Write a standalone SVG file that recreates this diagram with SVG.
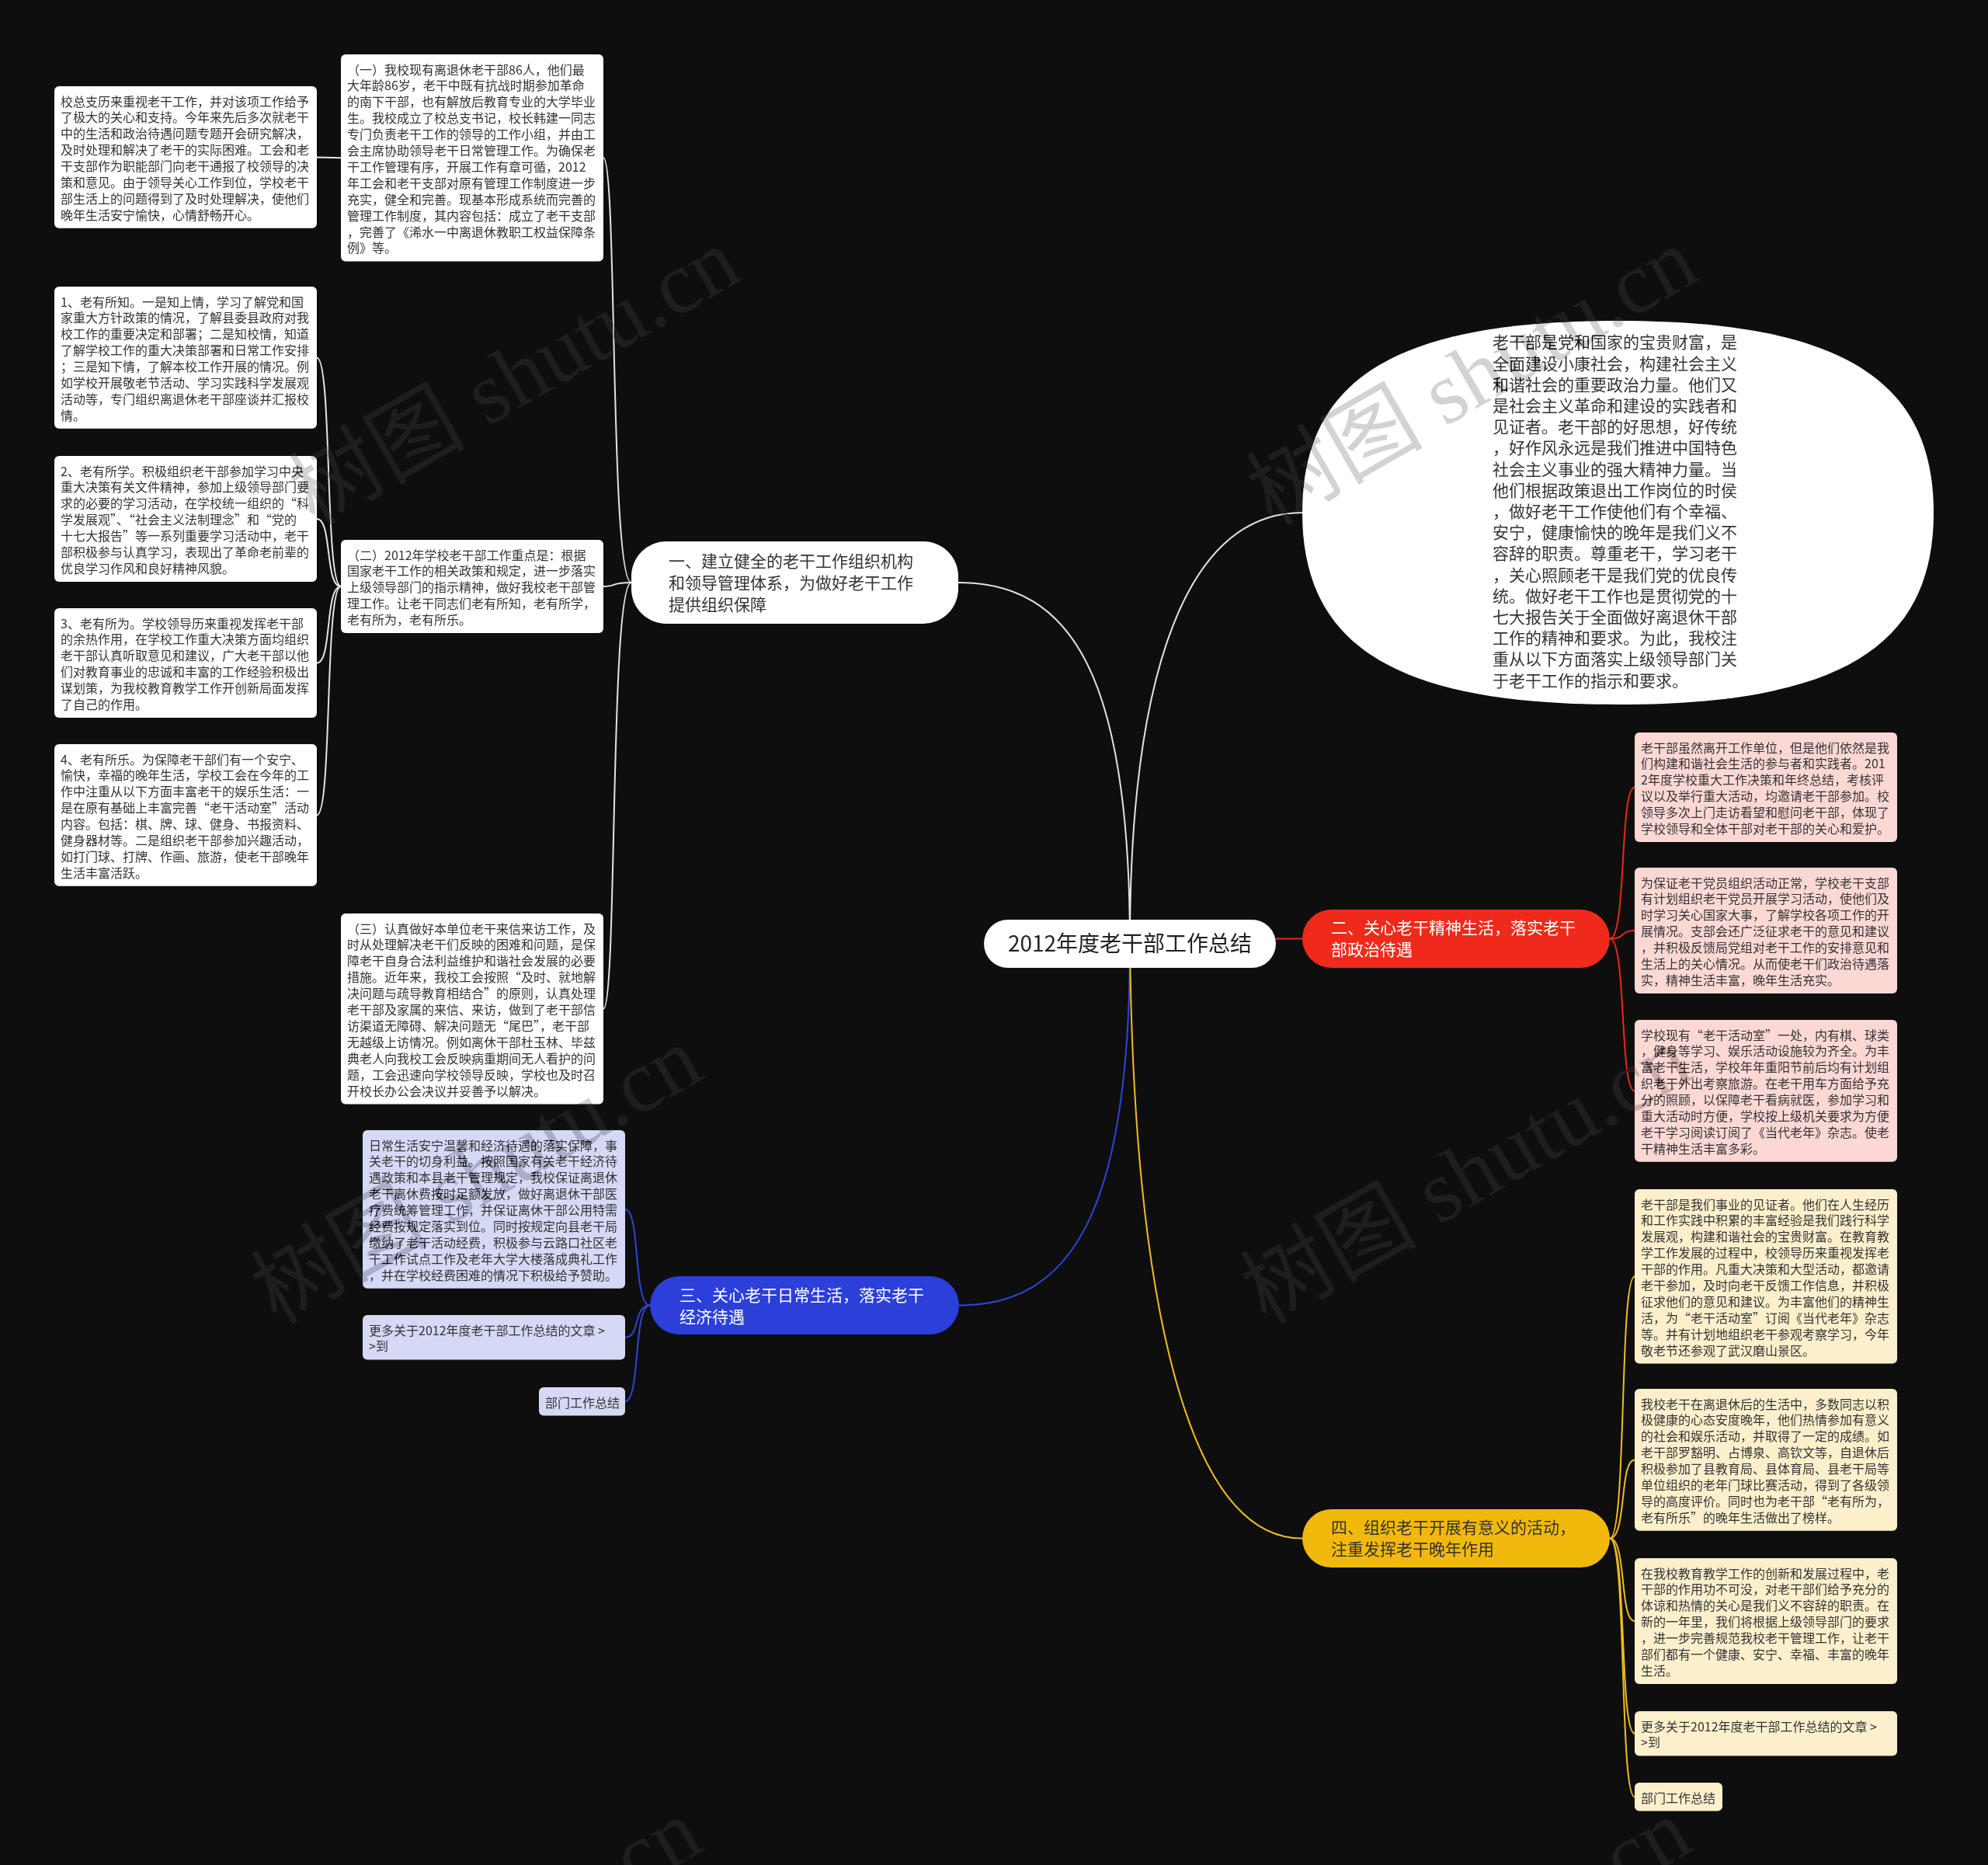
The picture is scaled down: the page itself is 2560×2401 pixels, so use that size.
<svg xmlns="http://www.w3.org/2000/svg" width="2560" height="2401" viewBox="0 0 2560 2401">
<style>
.bg{fill:#0e0e0e}
.nw{fill:#ffffff}
.np{fill:#fcd8d5}
.ny{fill:#fcf0cc}
.nb{fill:#d6d9f6}
text{font-family:'Noto Sans CJK SC','Noto Sans',sans-serif}
.t{font-size:16px;fill:#333333}
.tb{font-size:21px}
.dark{fill:#333333}
.light{fill:#ffffff}
.c{fill:none;stroke-width:2}
.cw{stroke:#e4e4e4}
.cr{stroke:#e8291c}
.cb{stroke:#3145d8}
.cy{stroke:#f0be1e}
.wm{font-family:'Liberation Serif','Noto Sans CJK SC',serif;font-size:114px;fill:#2c2c2c;mix-blend-mode:difference}
</style>
<rect class="bg" x="0" y="0" width="2560" height="2401"/>

<g id="connectors">
  <path class="c cw" stroke-width="2.5" d="M1455 1215 C1455 870 1380 750 1234 750"/>
  <path class="c cw" stroke-width="2.5" d="M1455 1215 C1455 860 1530 660 1677 660"/>
  <path class="c cr" stroke-width="2.5" d="M1643 1208.5 L1677 1208.5"/>
  <path class="c cb" stroke-width="2.5" d="M1455 1215 C1455 1560 1380 1680.5 1235 1680.5"/>
  <path class="c cy" stroke-width="2.5" d="M1455 1215 C1460 1680 1530 1980.5 1677 1980.5"/>

  <path class="c cw" d="M813 750 C785 750 795 203.2 777 203.2"/>
  <path class="c cw" d="M813 750 C785 750 795 755 777 755"/>
  <path class="c cw" d="M813 750 C785 750 795 1298.8 777 1298.8"/>

  <path class="c cw" d="M439 203.2 L408 202.4"/>

  <path class="c cw" d="M439 755 C418 755 428 460.4 408 460.4"/>
  <path class="c cw" d="M439 755 C418 755 428 668 408 668"/>
  <path class="c cw" d="M439 755 C418 755 428 853.5 408 853.5"/>
  <path class="c cw" d="M439 755 C418 755 428 1049.4 408 1049.4"/>

  <path class="c cb" d="M837 1680.5 C815 1680.5 825 1556.9 805 1556.9"/>
  <path class="c cb" d="M837 1680.5 C815 1680.5 825 1721.7 805 1721.7"/>
  <path class="c cb" d="M837 1680.5 C815 1680.5 825 1804.3 805 1804.3"/>

  <path class="c cr" d="M2073 1208.5 C2095 1208.5 2085 1013.5 2105 1013.5"/>
  <path class="c cr" d="M2073 1208.5 C2095 1208.5 2085 1198 2105 1198"/>
  <path class="c cr" d="M2073 1208.5 C2095 1208.5 2085 1404.4 2105 1404.4"/>

  <path class="c cy" d="M2073 1980.5 C2095 1980.5 2085 1643.3 2105 1643.3"/>
  <path class="c cy" d="M2073 1980.5 C2095 1980.5 2085 1879.4 2105 1879.4"/>
  <path class="c cy" d="M2073 1980.5 C2095 1980.5 2085 2087 2105 2087"/>
  <path class="c cy" d="M2073 1980.5 C2095 1980.5 2085 2231.7 2105 2231.7"/>
  <path class="c cy" d="M2073 1980.5 C2095 1980.5 2085 2313.3 2105 2313.3"/>
</g>

<g id="root">
  <rect class="nw" x="1267" y="1184" width="376" height="62" rx="31"/>
  <text x="1455" y="1225" text-anchor="middle" font-size="28" fill="#222222">2012年度老干部工作总结</text>
</g>

<g id="intro">
  <path class="nw" d="M2083.5 413 C2368 413 2490 487 2490 660 C2490 833 2368 907 2083.5 907 C1799 907 1677 833 1677 660 C1677 487 1799 413 2083.5 413 Z"/>
  <text class="dark" font-size="21" x="1922" y="448.4">
    <tspan x="1922">老干部是党和国家的宝贵财富，是</tspan>
    <tspan x="1922" dy="27.2">全面建设小康社会，构建社会主义</tspan>
    <tspan x="1922" dy="27.2">和谐社会的重要政治力量。他们又</tspan>
    <tspan x="1922" dy="27.2">是社会主义革命和建设的实践者和</tspan>
    <tspan x="1922" dy="27.2">见证者。老干部的好思想，好传统</tspan>
    <tspan x="1922" dy="27.2">，好作风永远是我们推进中国特色</tspan>
    <tspan x="1922" dy="27.2">社会主义事业的强大精神力量。当</tspan>
    <tspan x="1922" dy="27.2">他们根据政策退出工作岗位的时侯</tspan>
    <tspan x="1922" dy="27.2">，做好老干工作使他们有个幸福、</tspan>
    <tspan x="1922" dy="27.2">安宁，健康愉快的晚年是我们义不</tspan>
    <tspan x="1922" dy="27.2">容辞的职责。尊重老干，学习老干</tspan>
    <tspan x="1922" dy="27.2">，关心照顾老干是我们党的优良传</tspan>
    <tspan x="1922" dy="27.2">统。做好老干工作也是贯彻党的十</tspan>
    <tspan x="1922" dy="27.2">七大报告关于全面做好离退休干部</tspan>
    <tspan x="1922" dy="27.2">工作的精神和要求。为此，我校注</tspan>
    <tspan x="1922" dy="27.2">重从以下方面落实上级领导部门关</tspan>
    <tspan x="1922" dy="27.2">于老干工作的指示和要求。</tspan>
  </text>
</g>

<g id="branch1">
  <rect class="nw" x="813" y="697" width="421" height="106" rx="45"/>
  <text class="tb dark" x="861" y="730">
    <tspan x="861">一、建立健全的老干工作组织机构</tspan>
    <tspan x="861" dy="28">和领导管理体系，为做好老干工作</tspan>
    <tspan x="861" dy="28">提供组织保障</tspan>
  </text>
</g>

<g id="branch2">
  <rect fill="#ef2a1b" x="1677" y="1171" width="396" height="75" rx="37.5"/>
  <text class="tb light" x="1714" y="1202">
    <tspan x="1714">二、关心老干精神生活，落实老干</tspan>
    <tspan x="1714" dy="28">部政治待遇</tspan>
  </text>
</g>

<g id="branch3">
  <rect fill="#2b3fd9" x="837" y="1643" width="398" height="75" rx="37.5"/>
  <text class="tb light" x="875" y="1675">
    <tspan x="875">三、关心老干日常生活，落实老干</tspan>
    <tspan x="875" dy="28">经济待遇</tspan>
  </text>
</g>

<g id="branch4">
  <rect fill="#f2b90d" x="1677" y="1943" width="396" height="75" rx="37.5"/>
  <text class="tb dark" x="1714" y="1974">
    <tspan x="1714">四、组织老干开展有意义的活动，</tspan>
    <tspan x="1714" dy="28">注重发挥老干晚年作用</tspan>
  </text>
</g>

<g id="m1">
  <rect class="nw" x="439" y="70" width="338" height="266.4" rx="6"/>
  <text class="t" x="447" y="95.5">
    <tspan x="447">（一）我校现有离退休老干部86人，他们最</tspan>
    <tspan x="447" dy="20.9">大年龄86岁，老干中既有抗战时期参加革命</tspan>
    <tspan x="447" dy="20.9">的南下干部，也有解放后教育专业的大学毕业</tspan>
    <tspan x="447" dy="20.9">生。我校成立了校总支书记，校长韩建一同志</tspan>
    <tspan x="447" dy="20.9">专门负责老干工作的领导的工作小组，并由工</tspan>
    <tspan x="447" dy="20.9">会主席协助领导老干日常管理工作。为确保老</tspan>
    <tspan x="447" dy="20.9">干工作管理有序，开展工作有章可循，2012</tspan>
    <tspan x="447" dy="20.9">年工会和老干支部对原有管理工作制度进一步</tspan>
    <tspan x="447" dy="20.9">充实，健全和完善。现基本形成系统而完善的</tspan>
    <tspan x="447" dy="20.9">管理工作制度，其内容包括：成立了老干支部</tspan>
    <tspan x="447" dy="20.9">，完善了《浠水一中离退休教职工权益保障条</tspan>
    <tspan x="447" dy="20.9">例》等。</tspan>
  </text>
</g>

<g id="l0">
  <rect class="nw" x="70" y="111" width="338" height="182.8" rx="6"/>
  <text class="t" x="78" y="136.5">
    <tspan x="78">校总支历来重视老干工作，并对该项工作给予</tspan>
    <tspan x="78" dy="20.9">了极大的关心和支持。今年来先后多次就老干</tspan>
    <tspan x="78" dy="20.9">中的生活和政治待遇问题专题开会研究解决，</tspan>
    <tspan x="78" dy="20.9">及时处理和解决了老干的实际困难。工会和老</tspan>
    <tspan x="78" dy="20.9">干支部作为职能部门向老干通报了校领导的决</tspan>
    <tspan x="78" dy="20.9">策和意见。由于领导关心工作到位，学校老干</tspan>
    <tspan x="78" dy="20.9">部生活上的问题得到了及时处理解决，使他们</tspan>
    <tspan x="78" dy="20.9">晚年生活安宁愉快，心情舒畅开心。</tspan>
  </text>
</g>

<g id="m2">
  <rect class="nw" x="439" y="695" width="338" height="120.1" rx="6"/>
  <text class="t" x="447" y="720.5">
    <tspan x="447">（二）2012年学校老干部工作重点是：根据</tspan>
    <tspan x="447" dy="20.9">国家老干工作的相关政策和规定，进一步落实</tspan>
    <tspan x="447" dy="20.9">上级领导部门的指示精神，做好我校老干部管</tspan>
    <tspan x="447" dy="20.9">理工作。让老干同志们老有所知，老有所学，</tspan>
    <tspan x="447" dy="20.9">老有所为，老有所乐。</tspan>
  </text>
</g>

<g id="l1">
  <rect class="nw" x="70" y="369" width="338" height="182.8" rx="6"/>
  <text class="t" x="78" y="394.5">
    <tspan x="78">1、老有所知。一是知上情，学习了解党和国</tspan>
    <tspan x="78" dy="20.9">家重大方针政策的情况，了解县委县政府对我</tspan>
    <tspan x="78" dy="20.9">校工作的重要决定和部署；二是知校情，知道</tspan>
    <tspan x="78" dy="20.9">了解学校工作的重大决策部署和日常工作安排</tspan>
    <tspan x="78" dy="20.9">；三是知下情，了解本校工作开展的情况。例</tspan>
    <tspan x="78" dy="20.9">如学校开展敬老节活动、学习实践科学发展观</tspan>
    <tspan x="78" dy="20.9">活动等，专门组织离退休老干部座谈并汇报校</tspan>
    <tspan x="78" dy="20.9">情。</tspan>
  </text>
</g>

<g id="l2">
  <rect class="nw" x="70" y="587" width="338" height="161.9" rx="6"/>
  <text class="t" x="78" y="612.5">
    <tspan x="78">2、老有所学。积极组织老干部参加学习中央</tspan>
    <tspan x="78" dy="20.9">重大决策有关文件精神，参加上级领导部门要</tspan>
    <tspan x="78" dy="20.9">求的必要的学习活动，在学校统一组织的“科</tspan>
    <tspan x="78" dy="20.9">学发展观”、“社会主义法制理念”和“党的</tspan>
    <tspan x="78" dy="20.9">十七大报告”等一系列重要学习活动中，老干</tspan>
    <tspan x="78" dy="20.9">部积极参与认真学习，表现出了革命老前辈的</tspan>
    <tspan x="78" dy="20.9">优良学习作风和良好精神风貌。</tspan>
  </text>
</g>

<g id="l3">
  <rect class="nw" x="70" y="783" width="338" height="141" rx="6"/>
  <text class="t" x="78" y="808.5">
    <tspan x="78">3、老有所为。学校领导历来重视发挥老干部</tspan>
    <tspan x="78" dy="20.9">的余热作用，在学校工作重大决策方面均组织</tspan>
    <tspan x="78" dy="20.9">老干部认真听取意见和建议，广大老干部以他</tspan>
    <tspan x="78" dy="20.9">们对教育事业的忠诚和丰富的工作经验积极出</tspan>
    <tspan x="78" dy="20.9">谋划策，为我校教育教学工作开创新局面发挥</tspan>
    <tspan x="78" dy="20.9">了自己的作用。</tspan>
  </text>
</g>

<g id="l4">
  <rect class="nw" x="70" y="958" width="338" height="182.8" rx="6"/>
  <text class="t" x="78" y="983.5">
    <tspan x="78">4、老有所乐。为保障老干部们有一个安宁、</tspan>
    <tspan x="78" dy="20.9">愉快，幸福的晚年生活，学校工会在今年的工</tspan>
    <tspan x="78" dy="20.9">作中注重从以下方面丰富老干的娱乐生活：一</tspan>
    <tspan x="78" dy="20.9">是在原有基础上丰富完善“老干活动室”活动</tspan>
    <tspan x="78" dy="20.9">内容。包括：棋、牌、球、健身、书报资料、</tspan>
    <tspan x="78" dy="20.9">健身器材等。二是组织老干部参加兴趣活动，</tspan>
    <tspan x="78" dy="20.9">如打门球、打牌、作画、旅游，使老干部晚年</tspan>
    <tspan x="78" dy="20.9">生活丰富活跃。</tspan>
  </text>
</g>

<g id="m3">
  <rect class="nw" x="439" y="1176" width="338" height="245.5" rx="6"/>
  <text class="t" x="447" y="1201.5">
    <tspan x="447">（三）认真做好本单位老干来信来访工作，及</tspan>
    <tspan x="447" dy="20.9">时从处理解决老干们反映的困难和问题，是保</tspan>
    <tspan x="447" dy="20.9">障老干自身合法利益维护和谐社会发展的必要</tspan>
    <tspan x="447" dy="20.9">措施。近年来，我校工会按照“及时、就地解</tspan>
    <tspan x="447" dy="20.9">决问题与疏导教育相结合”的原则，认真处理</tspan>
    <tspan x="447" dy="20.9">老干部及家属的来信、来访，做到了老干部信</tspan>
    <tspan x="447" dy="20.9">访渠道无障碍、解决问题无“尾巴”，老干部</tspan>
    <tspan x="447" dy="20.9">无越级上访情况。例如离休干部杜玉林、毕兹</tspan>
    <tspan x="447" dy="20.9">典老人向我校工会反映病重期间无人看护的问</tspan>
    <tspan x="447" dy="20.9">题，工会迅速向学校领导反映，学校也及时召</tspan>
    <tspan x="447" dy="20.9">开校长办公会决议并妥善予以解决。</tspan>
  </text>
</g>

<g id="b1">
  <rect class="nb" x="467" y="1455" width="338" height="203.7" rx="6"/>
  <text class="t" x="475" y="1480.5">
    <tspan x="475">日常生活安宁温馨和经济待遇的落实保障，事</tspan>
    <tspan x="475" dy="20.9">关老干的切身利益。按照国家有关老干经济待</tspan>
    <tspan x="475" dy="20.9">遇政策和本县老干管理规定，我校保证离退休</tspan>
    <tspan x="475" dy="20.9">老干离休费按时足额发放，做好离退休干部医</tspan>
    <tspan x="475" dy="20.9">疗费统筹管理工作，并保证离休干部公用特需</tspan>
    <tspan x="475" dy="20.9">经费按规定落实到位。同时按规定向县老干局</tspan>
    <tspan x="475" dy="20.9">缴纳了老干活动经费，积极参与云路口社区老</tspan>
    <tspan x="475" dy="20.9">干工作试点工作及老年大学大楼落成典礼工作</tspan>
    <tspan x="475" dy="20.9">，并在学校经费困难的情况下积极给予赞助。</tspan>
  </text>
</g>

<g id="b2">
  <rect class="nb" x="467" y="1693" width="338" height="57.4" rx="6"/>
  <text class="t" x="475" y="1718.5">
    <tspan x="475">更多关于2012年度老干部工作总结的文章 &gt;</tspan>
    <tspan x="475" dy="20.9">&gt;到</tspan>
  </text>
</g>

<g id="b3">
  <rect class="nb" x="694" y="1786" width="111" height="36.5" rx="6"/>
  <text class="t" x="702" y="1811.5">部门工作总结</text>
</g>

<g id="r1">
  <rect class="np" x="2105" y="943" width="338" height="141" rx="6"/>
  <text class="t" x="2113" y="968.5">
    <tspan x="2113">老干部虽然离开工作单位，但是他们依然是我</tspan>
    <tspan x="2113" dy="20.9">们构建和谐社会生活的参与者和实践者。201</tspan>
    <tspan x="2113" dy="20.9">2年度学校重大工作决策和年终总结，考核评</tspan>
    <tspan x="2113" dy="20.9">议以及举行重大活动，均邀请老干部参加。校</tspan>
    <tspan x="2113" dy="20.9">领导多次上门走访看望和慰问老干部，体现了</tspan>
    <tspan x="2113" dy="20.9">学校领导和全体干部对老干部的关心和爱护。</tspan>
  </text>
</g>

<g id="r2">
  <rect class="np" x="2105" y="1117" width="338" height="161.9" rx="6"/>
  <text class="t" x="2113" y="1142.5">
    <tspan x="2113">为保证老干党员组织活动正常，学校老干支部</tspan>
    <tspan x="2113" dy="20.9">有计划组织老干党员开展学习活动，使他们及</tspan>
    <tspan x="2113" dy="20.9">时学习关心国家大事，了解学校各项工作的开</tspan>
    <tspan x="2113" dy="20.9">展情况。支部会还广泛征求老干的意见和建议</tspan>
    <tspan x="2113" dy="20.9">，并积极反馈局党组对老干工作的安排意见和</tspan>
    <tspan x="2113" dy="20.9">生活上的关心情况。从而使老干们政治待遇落</tspan>
    <tspan x="2113" dy="20.9">实，精神生活丰富，晚年生活充实。</tspan>
  </text>
</g>

<g id="r3">
  <rect class="np" x="2105" y="1313" width="338" height="182.8" rx="6"/>
  <text class="t" x="2113" y="1338.5">
    <tspan x="2113">学校现有“老干活动室”一处，内有棋、球类</tspan>
    <tspan x="2113" dy="20.9">，健身等学习、娱乐活动设施较为齐全。为丰</tspan>
    <tspan x="2113" dy="20.9">富老干生活，学校年年重阳节前后均有计划组</tspan>
    <tspan x="2113" dy="20.9">织老干外出考察旅游。在老干用车方面给予充</tspan>
    <tspan x="2113" dy="20.9">分的照顾，以保障老干看病就医，参加学习和</tspan>
    <tspan x="2113" dy="20.9">重大活动时方便，学校按上级机关要求为方便</tspan>
    <tspan x="2113" dy="20.9">老干学习阅读订阅了《当代老年》杂志。使老</tspan>
    <tspan x="2113" dy="20.9">干精神生活丰富多彩。</tspan>
  </text>
</g>

<g id="y1">
  <rect class="ny" x="2105" y="1531" width="338" height="224.6" rx="6"/>
  <text class="t" x="2113" y="1556.5">
    <tspan x="2113">老干部是我们事业的见证者。他们在人生经历</tspan>
    <tspan x="2113" dy="20.9">和工作实践中积累的丰富经验是我们践行科学</tspan>
    <tspan x="2113" dy="20.9">发展观，构建和谐社会的宝贵财富。在教育教</tspan>
    <tspan x="2113" dy="20.9">学工作发展的过程中，校领导历来重视发挥老</tspan>
    <tspan x="2113" dy="20.9">干部的作用。凡重大决策和大型活动，都邀请</tspan>
    <tspan x="2113" dy="20.9">老干参加，及时向老干反馈工作信息，并积极</tspan>
    <tspan x="2113" dy="20.9">征求他们的意见和建议。为丰富他们的精神生</tspan>
    <tspan x="2113" dy="20.9">活，为“老干活动室”订阅《当代老年》杂志</tspan>
    <tspan x="2113" dy="20.9">等。并有计划地组织老干参观考察学习，今年</tspan>
    <tspan x="2113" dy="20.9">敬老节还参观了武汉磨山景区。</tspan>
  </text>
</g>

<g id="y2">
  <rect class="ny" x="2105" y="1788" width="338" height="182.8" rx="6"/>
  <text class="t" x="2113" y="1813.5">
    <tspan x="2113">我校老干在离退休后的生活中，多数同志以积</tspan>
    <tspan x="2113" dy="20.9">极健康的心态安度晚年，他们热情参加有意义</tspan>
    <tspan x="2113" dy="20.9">的社会和娱乐活动，并取得了一定的成绩。如</tspan>
    <tspan x="2113" dy="20.9">老干部罗豁明、占博泉、高钦文等，自退休后</tspan>
    <tspan x="2113" dy="20.9">积极参加了县教育局、县体育局、县老干局等</tspan>
    <tspan x="2113" dy="20.9">单位组织的老年门球比赛活动，得到了各级领</tspan>
    <tspan x="2113" dy="20.9">导的高度评价。同时也为老干部“老有所为，</tspan>
    <tspan x="2113" dy="20.9">老有所乐”的晚年生活做出了榜样。</tspan>
  </text>
</g>

<g id="y3">
  <rect class="ny" x="2105" y="2006" width="338" height="161.9" rx="6"/>
  <text class="t" x="2113" y="2031.5">
    <tspan x="2113">在我校教育教学工作的创新和发展过程中，老</tspan>
    <tspan x="2113" dy="20.9">干部的作用功不可没，对老干部们给予充分的</tspan>
    <tspan x="2113" dy="20.9">体谅和热情的关心是我们义不容辞的职责。在</tspan>
    <tspan x="2113" dy="20.9">新的一年里，我们将根据上级领导部门的要求</tspan>
    <tspan x="2113" dy="20.9">，进一步完善规范我校老干管理工作，让老干</tspan>
    <tspan x="2113" dy="20.9">部们都有一个健康、安宁、幸福、丰富的晚年</tspan>
    <tspan x="2113" dy="20.9">生活。</tspan>
  </text>
</g>

<g id="y4">
  <rect class="ny" x="2105" y="2203" width="338" height="57.4" rx="6"/>
  <text class="t" x="2113" y="2228.5">
    <tspan x="2113">更多关于2012年度老干部工作总结的文章 &gt;</tspan>
    <tspan x="2113" dy="20.9">&gt;到</tspan>
  </text>
</g>

<g id="y5">
  <rect class="ny" x="2105" y="2295" width="113" height="36.5" rx="6"/>
  <text class="t" x="2113" y="2320.5">部门工作总结</text>
</g>

<g id="watermark">
  <text class="wm" transform="translate(405 678) rotate(-30)">树图 shutu.cn</text>
  <text class="wm" transform="translate(1638 678) rotate(-30)">树图 shutu.cn</text>
  <text class="wm" transform="translate(356 1706) rotate(-30)">树图 shutu.cn</text>
  <text class="wm" transform="translate(1630 1706) rotate(-30)">树图 shutu.cn</text>
  <text class="wm" transform="translate(356 2700) rotate(-30)">树图 shutu.cn</text>
  <text class="wm" transform="translate(1630 2700) rotate(-30)">树图 shutu.cn</text>
</g>
</svg>
